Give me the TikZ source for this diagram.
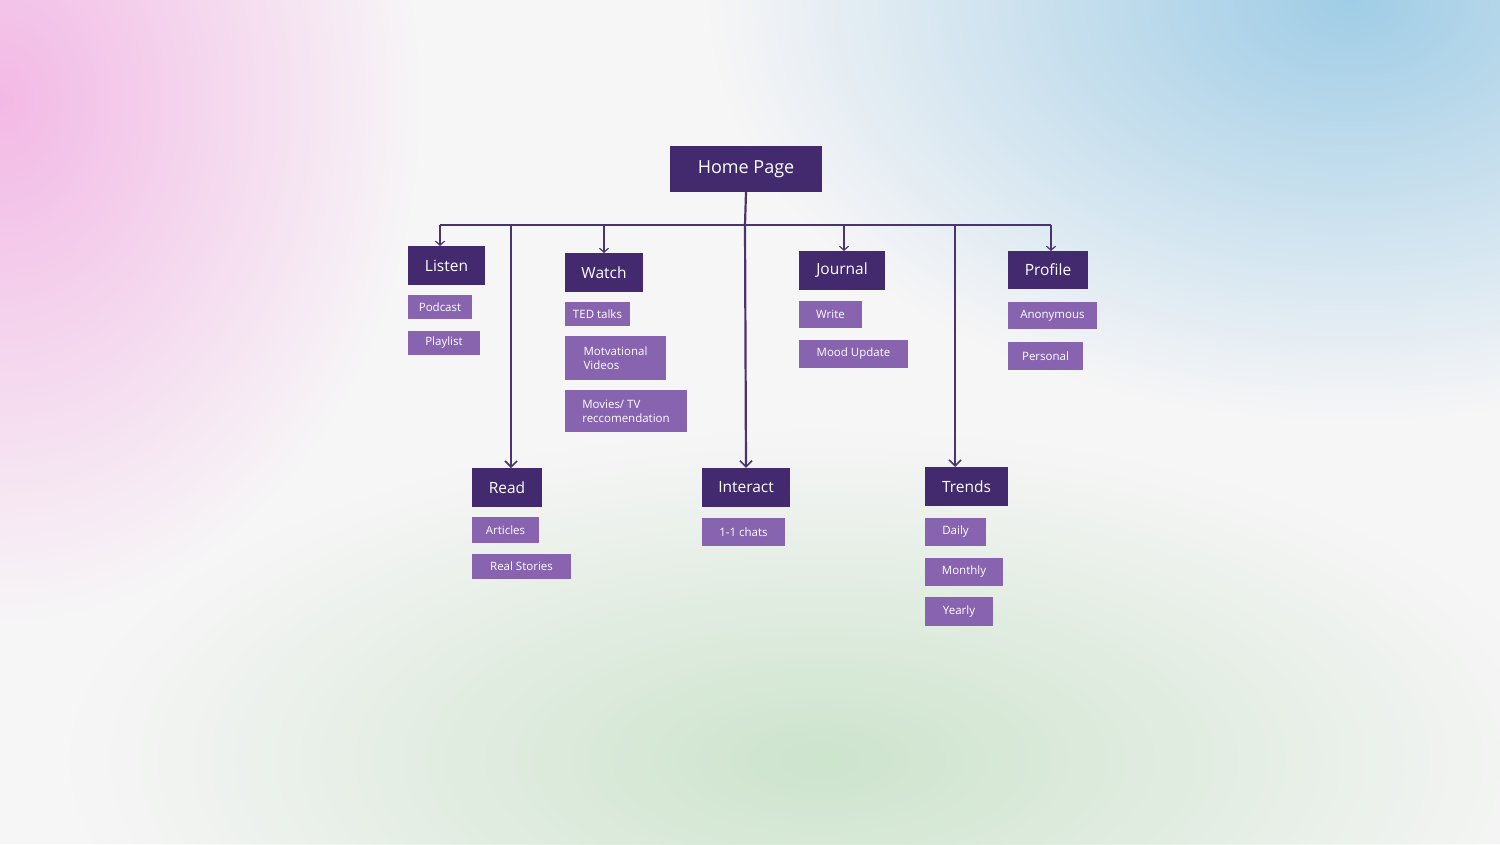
\documentclass[tikz,border=0pt]{standalone}
\usepackage{fontspec}
\setmainfont{Open Sans}
\usetikzlibrary{fadings,arrows.meta}
\tikzfading[name=fo, inner color=transparent!0, outer color=transparent!100]
\definecolor{dk}{HTML}{432A6E}
\definecolor{lt}{HTML}{8863B0}
\definecolor{ln}{HTML}{4A3470}
\tikzset{
  main/.style={fill=dk,text=white,font=\fontsize{15.5}{17}\selectfont,inner sep=0pt},
  sub/.style={fill=lt,text=white,font=\fontsize{11.5}{14}\selectfont,inner sep=0pt,align=left},
  con/.style={draw=ln,line width=2.2pt},
  arr/.style={con,-{Straight Barb[length=6pt,width=12pt,line width=1.6pt]}}
}
\newcommand{\bx}[6]{\node[#1,minimum width=#4-#2,minimum height=#5-#3] (#6) at ({(#2+#4)/2},{(#3+#5)/2})}
\begin{document}
\begin{tikzpicture}[x=1pt,y=-1pt]
\useasboundingbox (0,0) rectangle (1500,844);
\fill[color={rgb,255:red,247;green,246;blue,247}] (0,0) rectangle (1500,844);
\begin{scope}
\clip (0,0) rectangle (1500,844);
\fill[color={rgb,255:red,243;green,185;blue,230},path fading=fo] (0,100) ellipse (420 and 520);
\fill[color={rgb,255:red,160;green,205;blue,230},path fading=fo] (1350,0) ellipse (640 and 420);
\fill[color={rgb,255:red,205;green,228;blue,205},path fading=fo] (820,760) ellipse (750 and 330);
\end{scope}
\bx{main,font=\fontsize{18}{20}\selectfont}{670}{146}{822}{192}{home} {Home Page};
\bx{main}{408}{246}{485}{285}{listen} {Listen};
\bx{sub}{408}{295}{472}{319}{podcast} {Podcast};
\bx{sub}{408}{331}{480}{355}{playlist} {Playlist};
\bx{main}{565}{253}{643}{292}{watch} {Watch};
\bx{sub}{565}{302}{630}{326}{ted} {TED talks};
\bx{sub}{565}{336}{666}{380}{motv} {Motvational\\Videos};
\bx{sub}{565}{390}{687}{432}{movies} {Movies/ TV\\reccomendation};
\bx{main}{799}{251}{885}{290}{journal} {Journal};
\bx{sub}{799}{301}{862}{328}{write} {Write};
\bx{sub}{799}{340}{908}{368}{mood} {Mood Update};
\bx{main}{1008}{251}{1088}{289}{profile} {Profile};
\bx{sub}{1008}{302}{1097}{329}{anon} {Anonymous};
\bx{sub}{1008}{342}{1083}{370}{pers} {Personal};
\bx{main}{472}{468}{542}{507}{read} {Read};
\bx{sub}{472}{517}{539}{543}{art} {Articles};
\bx{sub}{472}{554}{571}{579}{real} {Real Stories};
\bx{main}{702}{468}{790}{507}{inter} {Interact};
\bx{sub}{702}{518}{785}{546}{chats} {1-1 chats};
\bx{main}{925}{467}{1008}{506}{trends} {Trends};
\bx{sub}{925}{518}{986}{546}{daily} {Daily};
\bx{sub}{925}{558}{1003}{586}{monthly} {Monthly};
\bx{sub}{925}{597}{993}{626}{yearly} {Yearly};
\coordinate (bus) at (745,225);
\coordinate (bl) at (440,225);
\coordinate (br) at (1051,225);
\draw[con] (home.south) -- (bus);
\draw[con] (bl) -- (br);
\draw[arr,line width=1.6pt,-{Straight Barb[length=4pt,width=9pt,line width=1.2pt]}] (bl) -- (440,246);
\draw[arr,line width=1.6pt,-{Straight Barb[length=4pt,width=9pt,line width=1.2pt]}] (604,225) -- (604,253);
\draw[arr,line width=1.6pt,-{Straight Barb[length=4pt,width=9pt,line width=1.2pt]}] (844,225) -- (844,251);
\draw[arr,line width=1.6pt,-{Straight Barb[length=4pt,width=9pt,line width=1.2pt]}] (br) -- (1051,251);
\draw[arr] (511,225) -- (511,468);
\draw[arr] (bus) -- (inter.north);
\draw[arr] (955,225) -- (955,467);
\end{tikzpicture}
\end{document}
